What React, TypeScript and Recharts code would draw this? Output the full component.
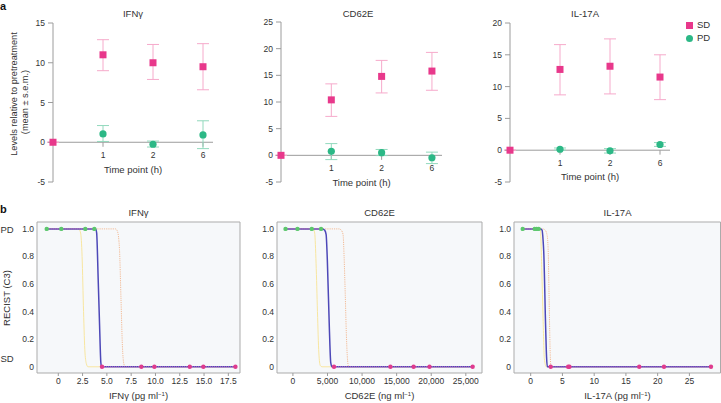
import React from 'react';
import {
  ComposedChart,
  Scatter,
  Line,
  XAxis,
  YAxis,
  ErrorBar,
  ReferenceLine,
  ReferenceArea,
  Legend,
} from 'recharts';

const FONT = '"Liberation Sans", Arial, sans-serif';
const TEXT = '#333';
const AXIS = '#9c9c9c';
const PINK = '#e8388b';
const PINK_LIGHT = '#f6aacb';
const GREEN = '#2cb886';
const GREEN_LIGHT = '#92d9bd';

// ---- panel a: levels relative to pretreatment
const timeLabels = ['1', '2', '6'];
const timeSlots = [1, 2, 3]; // slot 0 = pretreatment
const sdSlots = [0, 1, 2, 3];

const ifngSD = [0, 11.0, 10.0, 9.5];
const ifngSDLo = [0, 9.0, 7.9, 6.6];
const ifngSDHi = [0, 12.9, 12.3, 12.4];
const ifngPD = [1.05, -0.25, 0.92];
const ifngPDLo = [0.1, -0.6, -0.8];
const ifngPDHi = [2.1, 0.15, 2.7];

const cd62eSD = [0, 10.4, 14.8, 15.8];
const cd62eSDLo = [0, 7.3, 11.7, 12.2];
const cd62eSDHi = [0, 13.4, 17.8, 19.3];
const cd62ePD = [0.75, 0.5, -0.45];
const cd62ePDLo = [-0.8, -0.05, -1.55];
const cd62ePDHi = [2.2, 1.1, 0.6];

const il17aSD = [0, 12.7, 13.2, 11.5];
const il17aSDLo = [0, 8.7, 8.85, 7.95];
const il17aSDHi = [0, 16.6, 17.5, 15.0];
const il17aPD = [0.15, -0.1, 0.9];
const il17aPDLo = [0.0, -0.45, 0.6];
const il17aPDHi = [0.35, 0.25, 1.2];

// ---- panel b: RECIST (C3) vs concentration
const ifngPDConc = [-1.19, 0.31, 2.78, 3.71];
const ifngSDConc = [4.5, 8.55, 9.89, 13.53, 14.93, 18.23];
const ifngBlueX = [-1.19, 3.85, 3.95, 4.1, 4.25, 4.38, 4.45, 18.23];
const ifngBlueY = [1, 1, 0.97, 0.65, 0.3, 0.03, 0, 0];
const ifngYellowX = [-1.19, 2.1, 2.3, 2.45, 2.6, 2.75, 2.9, 3.05, 18.23];
const ifngYellowY = [1, 1, 0.97, 0.8, 0.4, 0.1, 0.02, 0, 0];
const ifngOrangeX = [-1.19, 5.9, 6.1, 6.3, 6.45, 6.6, 6.75, 6.9, 18.23];
const ifngOrangeY = [1, 1, 0.98, 0.85, 0.5, 0.15, 0.02, 0, 0];

const cd62ePDConc = [-1065, 660, 2730, 4070];
const cd62eSDConc = [5940, 14100, 17450, 19750, 25990];
const cd62eBlueX = [-1065, 4300, 4600, 4800, 4980, 5270, 5470, 5650, 25990];
const cd62eBlueY = [1, 1, 0.99, 0.96, 0.77, 0.28, 0.03, 0, 0];
const cd62eYellowX = [-1065, 2950, 3150, 3350, 3550, 3750, 3950, 4200, 25990];
const cd62eYellowY = [1, 1, 0.97, 0.75, 0.4, 0.1, 0.01, 0, 0];
const cd62eOrangeX = [-1065, 6700, 7000, 7250, 7400, 7570, 7720, 7860, 8060, 25990];
const cd62eOrangeY = [1, 1, 0.99, 0.96, 0.8, 0.52, 0.25, 0.08, 0, 0];

const il17aPDConc = [-1.26, 0.63, 0.94, 1.26];
const il17aSDConc = [3.15, 5.9, 6.1, 17.1, 21.0, 28.4];
const il17aBlueX = [-1.26, 1.6, 1.8, 1.95, 2.05, 2.36, 2.5, 2.63, 28.4];
const il17aBlueY = [1, 1, 0.99, 0.92, 0.84, 0.28, 0.07, 0, 0];
const il17aYellowX = [-1.26, 1.4, 1.55, 1.75, 1.95, 2.15, 2.45, 28.4];
const il17aYellowY = [1, 1, 0.98, 0.7, 0.35, 0.06, 0, 0];
const il17aOrangeX = [-1.26, 1.9, 2.3, 2.6, 2.75, 2.9, 3.0, 3.1, 3.2, 28.4];
const il17aOrangeY = [1, 1, 0.99, 0.95, 0.85, 0.5, 0.25, 0.06, 0, 0];

const ifngTicks = [0, 2.5, 5, 7.5, 10, 12.5, 15, 17.5];
const cd62eTicks = [0, 5000, 10000, 15000, 20000, 25000];
const il17aTicks = [0, 5, 10, 15, 20, 25];
const recistTicks = [0, 0.2, 0.4, 0.6, 0.8, 1];

const withErr = (slots: number[], mean: number[], lo: number[], hi: number[]) =>
  mean.map((m, i) => ({ x: slots[i], y: m, err: [m - lo[i], hi[i] - m] }));

const pairs = (xs: number[], ys: number[]) => xs.map((x, i) => ({ x, y: ys[i] }));
const flat = (xs: number[], y: number) => xs.map((x) => ({ x, y }));

const SquareMark = (p: any) => (
  <rect x={p.cx - 3.5} y={p.cy - 3.5} width={7} height={7} fill={PINK} />
);
const RoundMark = (p: any) => <circle cx={p.cx} cy={p.cy} r={3.6} fill={GREEN} />;
const SmallGreen = (p: any) => <circle cx={p.cx} cy={p.cy} r={2.2} fill="#5cc76d" />;
const SmallPink = (p: any) => <circle cx={p.cx} cy={p.cy} r={2.2} fill="#df3b8e" />;

const levelsLabel = () => (
  <g fill={TEXT} fontSize={9.2}>
    <text x={13.5} y={94} textAnchor="middle" dominantBaseline="central" transform="rotate(-90 13.5 94)">
      Levels relative to pretreatment
    </text>
    <text x={25} y={102} textAnchor="middle" dominantBaseline="central" transform="rotate(-90 25 102)">
      (mean ± s.e.m.)
    </text>
  </g>
);

const recistLabel = () => (
  <g fill={TEXT} fontSize={9.5}>
    <text x={6} y={98} textAnchor="middle" dominantBaseline="central" transform="rotate(-90 6 98)">
      RECIST (C3)
    </text>
    <text x={0.5} y={32.5}>PD</text>
    <text x={0.5} y={161.5}>SD</text>
  </g>
);

const unitLabel = (name: string, unit: string, cx: number) => () => (
  <text x={cx} y={199} textAnchor="middle" fontSize={9.5} fill={TEXT}>
    {name} ({unit} ml
    <tspan dy={-3.5} fontSize={6}>
      −1
    </tspan>
    <tspan dy={3.5}>)</tspan>
  </text>
);

type TimeProps = {
  left: number;
  width: number;
  axisW: number;
  right: number;
  top: number;
  yDomain: number[];
  yTicks: number[];
  sd: any[];
  pd: any[];
  tickLen: number;
  yLabel?: any;
  legend?: boolean;
};

function TimePanel(p: TimeProps) {
  return (
    <div style={{ position: 'absolute', left: p.left, top: 0 }}>
      <ComposedChart width={p.width} height={200} margin={{ top: p.top, right: p.right, bottom: 18, left: 0 }}>
        <XAxis type="number" dataKey="x" domain={[0, 3.2]} hide />
        <YAxis
          type="number"
          dataKey="y"
          domain={p.yDomain}
          ticks={p.yTicks}
          interval={0}
          width={p.axisW}
          tickSize={5}
          tickMargin={3}
          stroke={AXIS}
          tick={{ fill: TEXT, fontSize: 8.5 }}
          label={p.yLabel}
        />
        <ReferenceLine y={0} stroke={AXIS} />
        {timeSlots.map((s, i) => (
          <ReferenceLine
            key={s}
            segment={[{ x: s, y: 0 }, { x: s, y: -p.tickLen }]}
            stroke={AXIS}
            label={{ value: timeLabels[i], position: 'bottom', offset: 5.5, fill: TEXT, fontSize: 8.5 }}
          />
        ))}
        <ReferenceLine
          segment={[{ x: 1.6, y: 0 }, { x: 1.6, y: -p.tickLen }]}
          stroke="none"
          label={{ value: 'Time point (h)', position: 'bottom', offset: 19, fill: TEXT, fontSize: 9.5 }}
        />
        <Scatter name="SD" data={p.sd} dataKey="y" fill={PINK} shape={SquareMark} legendType="square" isAnimationActive={false}>
          <ErrorBar dataKey="err" direction="y" width={6} stroke={PINK_LIGHT} strokeWidth={1} isAnimationActive={false} />
        </Scatter>
        <Scatter name="PD" data={p.pd} dataKey="y" fill={GREEN} shape={RoundMark} legendType="circle" isAnimationActive={false}>
          <ErrorBar dataKey="err" direction="y" width={6} stroke={GREEN_LIGHT} strokeWidth={1} isAnimationActive={false} />
        </Scatter>
        {p.legend && (
          <Legend
            layout="vertical"
            align="center"
            verticalAlign="middle"
            iconSize={7}
            itemSorter={(item: any) => (item.value === 'SD' ? 0 : 1)}
            formatter={(v: any) => <span style={{ color: TEXT }}>{v}</span>}
            wrapperStyle={{ left: 206, top: 18, right: 'auto', bottom: 'auto', width: 'auto', lineHeight: '13px', fontSize: 9.5 }}
          />
        )}
      </ComposedChart>
    </div>
  );
}

type CurveProps = {
  left: number;
  width: number;
  axisW: number;
  right: number;
  xDomain: number[];
  xTicks: number[];
  fmt: (v: number) => string;
  pdConc: number[];
  sdConc: number[];
  blue: any[];
  yellow: any[];
  orange: any[];
  xLabel: any;
  yLabel?: any;
};

const Y_DOMAIN = [-0.045, 1.05];

function CurvePanel(p: CurveProps) {
  return (
    <div style={{ position: 'absolute', left: p.left, top: 200 }}>
      <ComposedChart width={p.width} height={203} margin={{ top: 22, right: p.right, bottom: 0, left: 0 }}>
        <XAxis
          type="number"
          dataKey="x"
          domain={p.xDomain}
          ticks={p.xTicks}
          interval={0}
          allowDataOverflow
          tickFormatter={p.fmt}
          height={30}
          axisLine={false}
          tickSize={3}
          tickMargin={2}
          stroke={AXIS}
          tick={{ fill: TEXT, fontSize: 8.5 }}
          label={p.xLabel}
        />
        <YAxis
          type="number"
          dataKey="y"
          domain={Y_DOMAIN}
          ticks={recistTicks}
          interval={0}
          allowDataOverflow
          tickFormatter={(v: number) => (v === 0 ? '0' : v.toFixed(1))}
          width={p.axisW}
          axisLine={false}
          tickLine={false}
          tickSize={0}
          tickMargin={3}
          tick={{ fill: TEXT, fontSize: 8.5 }}
          label={p.yLabel}
        />
        <ReferenceArea
          x1={p.xDomain[0]}
          x2={p.xDomain[1]}
          y1={Y_DOMAIN[0]}
          y2={Y_DOMAIN[1]}
          fill="#f6f8fa"
          fillOpacity={1}
          stroke="#ababab"
          strokeWidth={1}
        />
        <Line data={p.yellow} dataKey="y" type="monotone" stroke="#f8e6a0" strokeWidth={1} dot={false} isAnimationActive={false} />
        <Line data={p.orange} dataKey="y" type="monotone" stroke="#f3bb96" strokeWidth={1} strokeDasharray="1.2 1" dot={false} isAnimationActive={false} />
        <Line data={p.blue} dataKey="y" type="monotone" stroke="#4d48b8" strokeWidth={1.5} dot={false} isAnimationActive={false} />
        <Line data={flat(p.pdConc, 1)} dataKey="y" stroke="#d06cc0" strokeOpacity={0.85} strokeWidth={1.2} strokeDasharray="1 1" dot={false} isAnimationActive={false} />
        <Line data={flat(p.sdConc, 0)} dataKey="y" stroke="#d06cc0" strokeOpacity={0.85} strokeWidth={1.2} strokeDasharray="1 1" dot={false} isAnimationActive={false} />
        <Scatter data={flat(p.pdConc, 1)} dataKey="y" shape={SmallGreen} isAnimationActive={false} />
        <Scatter data={flat(p.sdConc, 0)} dataKey="y" shape={SmallPink} isAnimationActive={false} />
      </ComposedChart>
    </div>
  );
}

const Title = ({ x, y, text }: { x: number; y: number; text: string }) => (
  <div style={{ position: 'absolute', left: x - 50, top: y - 6, width: 100, textAlign: 'center', fontSize: 9.5, lineHeight: '12px', color: TEXT }}>
    {text}
  </div>
);

const letterStyle = { position: 'absolute' as const, left: 0, fontWeight: 700, fontSize: 11, lineHeight: '12px', color: '#111' };

export default function App() {
  return (
    <div style={{ position: 'absolute', left: 0, top: 0, width: 721, height: 403, background: '#fff', fontFamily: FONT, overflow: 'hidden' }}>
      <div style={{ ...letterStyle, top: 0 }}>a</div>
      <div style={{ ...letterStyle, top: 203 }}>b</div>

      <Title x={133} y={14} text="IFNγ" />
      <Title x={358} y={14} text="CD62E" />
      <Title x={585} y={14} text="IL-17A" />
      <Title x={138.5} y={213} text="IFNγ" />
      <Title x={379.5} y={213} text="CD62E" />
      <Title x={617.5} y={213} text="IL-17A" />

      <TimePanel
        left={0}
        width={240}
        axisW={53}
        right={27}
        top={23}
        yDomain={[-5, 15]}
        yTicks={[-5, 0, 5, 10, 15]}
        sd={withErr(sdSlots, ifngSD, ifngSDLo, ifngSDHi)}
        pd={withErr(timeSlots, ifngPD, ifngPDLo, ifngPDHi)}
        tickLen={0.57}
        yLabel={levelsLabel}
      />
      <TimePanel
        left={240}
        width={240}
        axisW={41}
        right={38}
        top={22}
        yDomain={[-5, 25]}
        yTicks={[-5, 0, 5, 10, 15, 20, 25]}
        sd={withErr(sdSlots, cd62eSD, cd62eSDLo, cd62eSDHi)}
        pd={withErr(timeSlots, cd62ePD, cd62ePDLo, cd62ePDHi)}
        tickLen={0.85}
      />
      <TimePanel
        left={480}
        width={241}
        axisW={30}
        right={51}
        top={23}
        yDomain={[-5, 20]}
        yTicks={[-5, 0, 5, 10, 15, 20]}
        sd={withErr(sdSlots, il17aSD, il17aSDLo, il17aSDHi)}
        pd={withErr(timeSlots, il17aPD, il17aPDLo, il17aPDHi)}
        tickLen={0.7}
        legend
      />

      <CurvePanel
        left={0}
        width={242}
        axisW={37}
        right={2}
        xDomain={[-2.19, 18.7]}
        xTicks={ifngTicks}
        fmt={(v) => (v === 0 ? '0' : v.toFixed(1))}
        pdConc={ifngPDConc}
        sdConc={ifngSDConc}
        blue={pairs(ifngBlueX, ifngBlueY)}
        yellow={pairs(ifngYellowX, ifngYellowY)}
        orange={pairs(ifngOrangeX, ifngOrangeY)}
        xLabel={unitLabel('IFNγ', 'pg', 138.5)}
        yLabel={recistLabel}
      />
      <CurvePanel
        left={240}
        width={244}
        axisW={37}
        right={2}
        xDomain={[-2300, 27340]}
        xTicks={cd62eTicks}
        fmt={(v) => v.toLocaleString('en-US')}
        pdConc={cd62ePDConc}
        sdConc={cd62eSDConc}
        blue={pairs(cd62eBlueX, cd62eBlueY)}
        yellow={pairs(cd62eYellowX, cd62eYellowY)}
        orange={pairs(cd62eOrangeX, cd62eOrangeY)}
        xLabel={unitLabel('CD62E', 'ng', 139.5)}
      />
      <CurvePanel
        left={480}
        width={241}
        axisW={34}
        right={0.5}
        xDomain={[-2.63, 29.9]}
        xTicks={il17aTicks}
        fmt={(v) => String(v)}
        pdConc={il17aPDConc}
        sdConc={il17aSDConc}
        blue={pairs(il17aBlueX, il17aBlueY)}
        yellow={pairs(il17aYellowX, il17aYellowY)}
        orange={pairs(il17aOrangeX, il17aOrangeY)}
        xLabel={unitLabel('IL-17A', 'pg', 137.5)}
      />
    </div>
  );
}
